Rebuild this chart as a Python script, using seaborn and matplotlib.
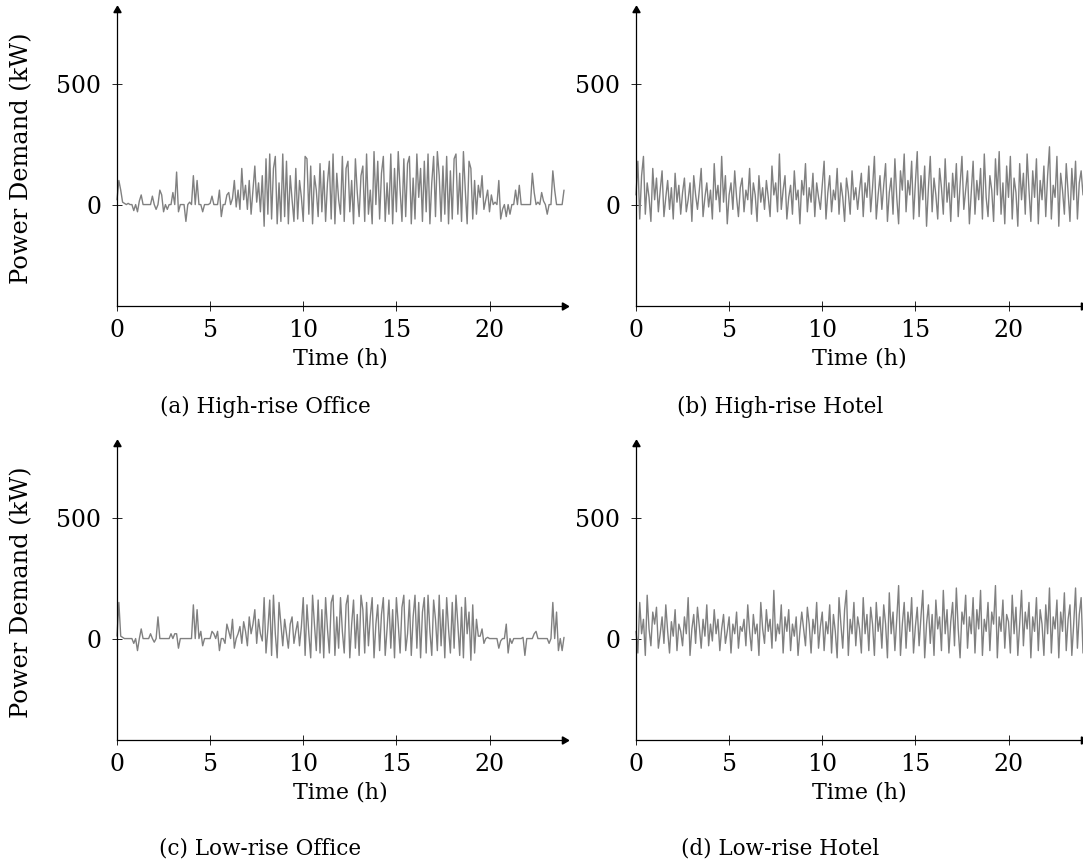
import numpy as np
import pandas as pd
import matplotlib
matplotlib.use("Agg")
import matplotlib.pyplot as plt
import seaborn as sns

# ---------------- data (kW), sampled every 0.1 h from 0 to 24 h ----------------
high_rise_office = [
    20, 100, 60, 10, 5, 0, 5, 0, 0, -25,
    0, -30, 15, 40, 0, 0, 0, 0, 0, 35,
    0, -20, 0, 60, 40, -30, 0, -20, 0, 0,
    50, 0, 135, -30, 0, 0, 0, -70, 0, 10,
    0, 120, 0, 100, 0, 0, -30, 0, 0, 0,
    5, 35, 0, 0, 0, 60, -50, 0, 0, 40,
    50, 0, 25, 100, -10, 60, -20, 150, 20, 80,
    -20, 100, -40, 60, 160, 10, 90, -30, 120, -90,
    190, -40, 210, -60, 150, 200, -80, 90, -70, 210,
    -50, 180, -80, 120, 20, -70, 150, -60, 100, 30,
    -70, 200, 190, -40, 160, -80, 120, 60, -50, 170,
    -30, 140, -70, 90, 180, -60, 210, -80, 130, 20,
    -40, 200, -70, 150, 180, -30, 100, -80, 190, 50,
    -50, 120, 160, -70, 210, -40, 60, -80, 220, 0,
    180, -60, 130, 200, -70, 90, -40, 210, -80, 150,
    -30, 220, 60, -70, 190, -50, 170, 200, -80, 110,
    -60, 210, 30, 150, -70, 180, -30, 210, -80, 90,
    200, -50, 220, 120, -70, 160, -40, 200, -80, 140,
    -60, 190, 210, -40, 130, -70, 220, 60, -80, 180,
    150, -60, 100, -40, 80, 30, 120, -20, 20, 60,
    -30, 40, 0, 10, 0, 100, -60, -20, 0, -50,
    0, -40, 0, 0, 60, 0, 80, 0, 0, 0,
    0, 0, 0, 130, 50, 0, 10, 0, 50, 15,
    0, -40, 0, 0, 140, 60, 0, 0, 0, 0,
    60,
]
high_rise_hotel = [
    40, 180, -60, 120, 200, -40, 90, 30, -70, 150,
    20, 110, -30, 60, 140, -50, 30, 100, -20, 70,
    -60, 130, 10, 80, -40, 50, 110, -30, 20, 90,
    -70, 120, 40, -20, 60, 150, -50, 30, 90, -10,
    60, -60, 170, 20, 80, -30, 200, 10, 120, -80,
    40, 90, -20, 140, 30, -50, 70, 110, -30, 60,
    20, 150, -40, 90, 40, -70, 120, 10, 70, -20,
    100, 30, -50, 160, 40, 90, -30, 210, -20, 60,
    120, -60, 30, 80, -40, 140, 20, 60, -80, 100,
    40, 170, -30, 70, 10, 130, -50, 90, 30, -20,
    80, 180, -60, 50, 120, -30, 60, 20, 150, -40,
    90, 30, -70, 110, 50, -40, 140, 20, 70, -20,
    60, 130, -50, 90, 30, 160, -30, 70, 200, -60,
    40, 120, -20, 80, 170, -70, 50, 110, -40, 190,
    30, -80, 140, 60, 210, -30, 100, 40, 180, -60,
    90, 220, -50, 120, 20, 160, -90, 70, 200, -30,
    110, 40, -60, 150, 70, -40, 190, 10, 90, -70,
    130, 30, 170, -50, 80, 200, -20, 60, 140, -80,
    50, 180, -40, 100, 20, 150, -60, 210, 30, -50,
    120, 60, -70, 190, 40, 220, -40, 90, -80, 160,
    30, 200, -60, 110, 50, -90, 170, 20, 130, -40,
    210, 60, -70, 140, 30, 190, -80, 100, 20, 160,
    -50, 120, 240, -60, 80, 30, 200, -90, 130, 60,
    -40, 170, 50, -70, 150, 20, 180, -60, 90, 140,
    40,
]
low_rise_office = [
    10, 150, 10, 5, 0, 0, 0, 0, 0, -20,
    0, -50, 0, 40, 0, 0, 0, 0, 20, 0,
    -15, 0, 90, 0, 0, 0, 0, 0, 0, 20,
    0, 20, 20, -40, 0, 0, 0, 0, 0, 0,
    0, 140, 0, 120, 0, 30, -30, 0, 0, 0,
    0, 30, 20, 0, 30, -50, 0, 0, -20, 60,
    30, 0, 80, -40, 0, 20, 50, -20, 70, 30,
    -30, 90, 20, 60, 120, -20, 80, 20, -10, 170,
    -60, 40, 160, -70, 180, 20, -80, 150, 60, -30,
    80, 20, -40, 60, 90, -20, 30, 70, -30, 50,
    170, -70, 140, 20, -80, 180, 60, -50, 160, -60,
    120, -80, 170, 40, -60, 150, 180, -70, 90, -40,
    170, 30, -60, 140, 180, -80, 60, 160, -40, 100,
    -70, 180, 120, -60, 150, -30, 90, 170, -80, 60,
    140, -50, 100, 170, -70, 40, 160, -40, 120, -80,
    170, 60, -60, 130, 180, -50, 20, 160, -70, 90,
    180, -40, 150, -80, 110, 170, -60, 180, 30, -70,
    160, 80, -50, 180, -30, 120, -80, 170, 40, -60,
    150, -40, 180, 60, -70, 130, -80, 170, 20, 110,
    -90, 140, -60, 80, 10, 10, 40, -20, 0, 5,
    0, 0, 0, 0, 0, -40, -10, 0, 0, 60,
    -60, 0, -20, 0, 0, 0, 0, 0, 5, -70,
    0, 0, 0, 0, 20, 30, 0, 0, 0, 0,
    0, 0, -20, 0, 150, 0, 110, -50, 0, -50,
    5,
]
low_rise_hotel = [
    30, -60, 150, 20, 80, -70, 180, 40, -30, 110,
    60, 130, -40, 20, 90, -20, 140, 30, -60, 70,
    10, 120, -50, 60, 30, -30, 90, 20, 170, -70,
    40, 100, -20, 130, 50, -40, 80, 10, 140, -30,
    60, -10, 120, 20, 80, -50, 40, 100, -20, 30,
    90, -60, 60, 20, 110, -40, 50, 30, 80, -30,
    140, 30, -50, 100, 20, 60, -70, 150, 40, -20,
    120, 30, 80, -40, 200, -10, 60, 20, 140, -60,
    90, 30, 120, -50, 60, 10, 90, -70, 30, 110,
    40, -30, 130, 60, -60, 80, 20, 150, -40, 50,
    110, -50, 70, 20, 140, -60, 100, 30, -80, 170,
    60, -40, 120, 200, -70, 80, 20, 150, -30, 90,
    40, -60, 170, 20, 100, -50, 130, 60, -70, 150,
    30, 90, -40, 140, 60, -80, 190, 20, 110, -50,
    80, 220, -70, 60, 150, -40, 110, 30, 170, -60,
    50, 130, -30, 90, 200, -80, 60, 140, -20, 100,
    -70, 160, 40, 90, -50, 200, 20, 120, -60, 70,
    150, -30, 210, 40, -80, 110, 60, 180, -40, 90,
    20, 170, -60, 120, 40, 200, -70, 80, 30, 150,
    -50, 110, 60, 220, -80, 90, 30, 160, -40, 100,
    70, -60, 180, 20, 130, -70, 60, 200, -30, 110,
    40, 150, -80, 90, 30, 170, -50, 120, 60, -70,
    140, 20, 210, -60, 90, 40, 160, -80, 110, 30,
    190, -50, 80, 140, -70, 60, 210, -40, 100, 170,
    -60,
]
captions = ["(a) High-rise Office", "(b) High-rise Hotel",
            "(c) Low-rise Office", "(d) Low-rise Hotel"]
x_ticks = [0, 5, 10, 15, 20]
y_ticks = [0, 500]
x_label = "Time (h)"
y_label = "Power Demand (kW)"

# ---------------- figure ----------------
sns.set_theme(style="white")
plt.rcParams["font.family"] = ["DejaVu Serif"]
plt.rcParams["text.color"] = "black"
plt.rcParams["axes.labelcolor"] = "black"

W, H = 1083, 868
fig = plt.figure(figsize=(W / 100, H / 100), dpi=100)

def px_rect(x0, y_top, x1, y_bot):
    return [x0 / W, 1 - y_bot / H, (x1 - x0) / W, (y_bot - y_top) / H]

rects = [
    px_rect(117, 10, 564, 305.7),
    px_rect(636, 10, 1083, 305.7),
    px_rect(117, 444, 564, 739.7),
    px_rect(636, 444, 1083, 739.7),
]
series = [high_rise_office, high_rise_hotel, low_rise_office, low_rise_hotel]
cap_pos = [(265, 407), (780, 407), (260, 848), (780, 848)]
xlab_y = [358, 358, 792, 792]
FS_TICK = 17
FS_YLAB = 17.4
FS_XLAB = 16
FS_CAP = 15.5

for i, (rect, vals) in enumerate(zip(rects, series)):
    ax = fig.add_axes(rect)
    n = len(vals)
    t = np.linspace(0, 24, n)
    df = pd.DataFrame({"t": t, "p": vals})
    sns.lineplot(data=df, x="t", y="p", ax=ax, color="#808080", linewidth=1.0,
                 estimator=None, clip_on=False)
    ax.set_xlim(0, 24)
    ax.set_ylim(-420, 808)
    ax.set_xticks(x_ticks)
    ax.set_yticks(y_ticks)
    ax.set_xlabel("")
    ax.set_ylabel("")
    ax.set_facecolor("none")
    for s in ["top", "right"]:
        ax.spines[s].set_visible(False)
    for s in ["left", "bottom"]:
        ax.spines[s].set_color("black")
        ax.spines[s].set_linewidth(0.9)
    ax.tick_params(axis="both", direction="inout", length=7, width=0.6,
                   colors="black", labelsize=FS_TICK, left=True, bottom=True)
    ax.tick_params(axis="x", pad=6)
    ax.tick_params(axis="y", pad=8)
    # arrow heads
    ax.plot(1, 0, marker=(3, 0, -90), color="black", ms=6, transform=ax.transAxes,
            clip_on=False)
    ax.plot(0, 1, marker=(3, 0, 0), color="black", ms=6, transform=ax.transAxes,
            clip_on=False)
    xc = rect[0] + rect[2] / 2
    fig.text(xc, 1 - xlab_y[i] / H, x_label, ha="center", va="center",
             fontsize=FS_XLAB)
    if i % 2 == 0:
        fig.text(22 / W, rect[1] + rect[3] / 2, y_label, rotation=90,
                 ha="center", va="center", fontsize=FS_YLAB)
    cx, cy = cap_pos[i]
    fig.text(cx / W, 1 - cy / H, captions[i], ha="center", va="center",
             fontsize=FS_CAP)

fig.savefig("out.png", dpi=100)
print([len(s) for s in series])
